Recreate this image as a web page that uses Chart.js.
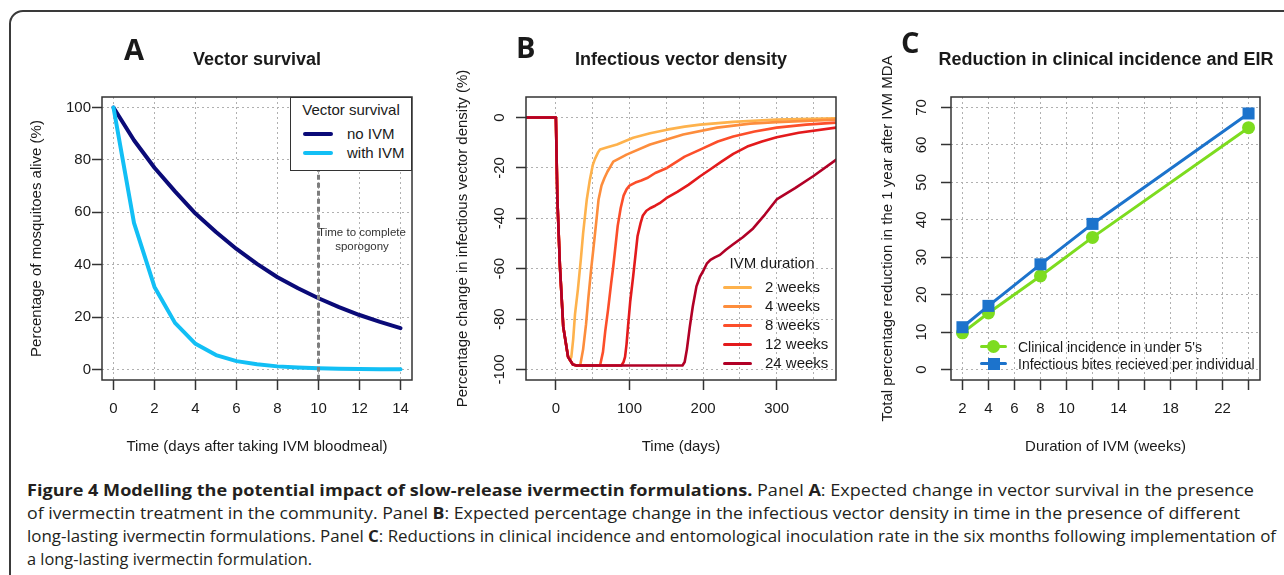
<!DOCTYPE html>
<html>
<head>
<meta charset="utf-8">
<script src="https://cdn.jsdelivr.net/npm/chart.js@4.4.1/dist/chart.umd.min.js"></script>
<style>
  body { margin: 0; background: #fff; }
  #page { position: relative; width: 1284px; height: 575px; overflow: hidden;
          font-family: "Liberation Sans", Arial, sans-serif; color: #1a1a1a; }
  #frame { position: absolute; left: 9px; top: 10px; width: 1320px; height: 640px;
           border: 2px solid #3a3a3a; border-radius: 14px; }
  canvas { position: absolute; top: 0; }
  .ttl { position: absolute; width: 440px; font-weight: bold; font-size: 18px;
         line-height: 20px; text-align: center; }
  .letter { position: absolute; font-family: "Open Sans", sans-serif; font-weight: 700;
            font-size: 29px; line-height: 30px; }
  .lg { position: absolute; font-size: 15px; line-height: 18px; white-space: nowrap; }
  .sw { position: absolute; border-radius: 2px; }
  .note { position: absolute; width: 120px; text-align: center; font-size: 11.5px;
          line-height: 14px; color: #333; }
  #cap { position: absolute; left: 27px; top: 478px; font-family: "Open Sans", sans-serif;
         font-size: 16.5px; color: #231f20; }
  #cap div { height: 23px; line-height: 23px; white-space: nowrap; transform-origin: left center; width: max-content; }
  #cap b { font-weight: 700; }
</style>
</head>
<body>
<div id="page">
  <div id="frame"></div>

  <canvas id="chartA" width="430" height="470" style="left:0px"></canvas>
  <canvas id="chartB" width="420" height="470" style="left:430px"></canvas>
  <canvas id="chartC" width="434" height="470" style="left:850px"></canvas>

  <!-- panel titles and letters -->
  <div class="letter" style="left:124px; top:34px">A</div>
  <div class="letter" style="left:516px; top:32px">B</div>
  <div class="letter" style="left:901px; top:27px">C</div>
  <div class="ttl" style="left:37px; top:49px">Vector survival</div>
  <div class="ttl" style="left:461px; top:49px">Infectious vector density</div>
  <div class="ttl" style="left:886px; top:49px">Reduction in clinical incidence and EIR</div>

  <!-- panel A annotation + legend -->
  <div class="note" style="left:302px; top:225px">Time to complete<br>sporogony</div>
  <div style="position:absolute; left:290px; top:97px; width:120px; height:72px; background:#fff; border:1.5px solid #333;"></div>
  <div class="lg" style="left:290px; top:101px; width:122px; text-align:center">Vector survival</div>
  <div class="sw" style="left:303px; top:132px; width:30px; height:4px; background:#0a0a78"></div>
  <div class="lg" style="left:347px; top:125px">no IVM</div>
  <div class="sw" style="left:303px; top:151px; width:30px; height:4px; background:#12bff5"></div>
  <div class="lg" style="left:347px; top:144px">with IVM</div>

  <!-- panel B legend -->
  <div class="lg" style="left:722px; top:254px; width:100px; text-align:center">IVM duration</div>
  <div id="legB"></div>

  <!-- panel C legend -->
  <div class="sw" style="left:980px; top:345px; width:27px; height:3px; background:#7ddc1f"></div>
  <div class="sw" style="left:987px; top:340px; width:13px; height:13px; border-radius:50%; background:#7ddc1f"></div>
  <div class="lg" style="left:1018px; top:338px; font-size:14px">Clinical incidence in under 5's</div>
  <div class="sw" style="left:980px; top:362px; width:27px; height:3px; background:#1c73cc"></div>
  <div class="sw" style="left:988px; top:358px; width:12px; height:12px; border-radius:0; background:#1c73cc"></div>
  <div class="lg" style="left:1018px; top:355px; font-size:14px">Infectious bites recieved per individual</div>

  <div id="cap">
    <div><b>Figure 4 Modelling the potential impact of slow-release ivermectin formulations.</b> Panel <b>A</b>: Expected change in vector survival in the presence</div>
    <div>of ivermectin treatment in the community. Panel <b>B</b>: Expected percentage change in the infectious vector density in time in the presence of different</div>
    <div>long-lasting ivermectin formulations. Panel <b>C</b>: Reductions in clinical incidence and entomological inoculation rate in the six months following implementation of</div>
    <div>a long-lasting ivermectin formulation.</div>
  </div>
</div>

<script>
// ---------- data : panel A (vector survival) ----------
const daysA = [0, 1, 2, 3, 4, 5, 6, 7, 8, 9, 10, 11, 12, 13, 14];
const noIVM = [100, 87.5, 77, 68, 59.5, 52.5, 46, 40.3, 35.2, 31, 27.2, 23.8, 20.8, 18.2, 15.8];
const withIVM = [100, 56, 31.5, 17.8, 9.8, 5.5, 3.2, 2, 1.2, 0.8, 0.5, 0.3, 0.2, 0.1, 0.1];
const sporogonyDay = 10;
const xTicksA = [0, 2, 4, 6, 8, 10, 12, 14];
const yTicksA = [0, 20, 40, 60, 80, 100];

// ---------- data : panel B (infectious vector density) ----------
const ivmLabels = ['2 weeks', '4 weeks', '8 weeks', '12 weeks', '24 weeks'];
const ivmColors = ['#FEB24C', '#FD8D3C', '#FC4E2A', '#E31A1C', '#B10026'];
const days2w = [-45, 0, 2, 5.5, 10, 16.5, 19, 21, 23.5, 26, 30, 34, 37, 42, 46, 50, 53, 57, 60, 70, 83, 105, 128, 151, 175, 196, 241, 300, 381];
const dens2w = [0, 0, -32, -59, -83, -94.5, -96.3, -95, -88, -78, -68, -56, -46, -32.5, -25, -19, -16.5, -14, -12.7, -11.8, -10.7, -8, -6.2, -4.8, -3.6, -2.8, -1.7, -0.8, -0.3];
const days4w = [-45, 0, 2, 5.5, 10, 16.5, 23, 28, 33, 37, 41, 44, 48, 51, 55, 58, 62, 66, 70, 78, 96, 128, 173, 219, 264, 300, 381];
const dens4w = [0, 0, -32, -59, -83, -95, -98, -98.4, -98.4, -92, -82, -72, -60, -52, -41, -32.5, -27, -24, -21.5, -17.5, -14.7, -10.7, -6.7, -4, -2.4, -1.8, -0.8];
const days8w = [-45, 0, 2, 5.5, 10, 16.5, 23, 28, 60, 64, 67, 71, 75, 78, 81, 84, 88, 92, 96, 100, 108, 116, 124, 135, 151, 175, 196, 220, 241, 270, 300, 340, 381];
const dens8w = [0, 0, -32, -59, -83, -95, -98, -98.4, -98.4, -93, -85, -76, -66, -59, -51, -43, -36, -31, -28.5, -27, -25.8, -25, -24, -22, -20, -15.5, -12.7, -9.5, -7.5, -5.5, -4, -2.8, -2];
const days12w = [-45, 0, 2, 5.5, 10, 16.5, 23, 28, 89, 92, 94, 96, 98, 101, 105, 108, 111, 115, 118, 123, 128, 135, 141, 150, 165, 180, 196, 210, 225, 241, 260, 280, 300, 330, 381];
const dens12w = [0, 0, -32, -59, -83, -95, -98, -98.4, -98.4, -97, -95, -90, -83, -73, -63, -55, -47, -42, -39, -37, -36, -35, -34, -32, -29.5, -26.7, -23.3, -20.5, -17.5, -14.4, -11.5, -9.5, -7.8, -6, -4];
const days24w = [-45, 0, 2, 5.5, 10, 16.5, 23, 28, 172, 175, 178, 182, 186, 191, 196, 200, 205, 210, 216, 223, 231, 240, 254, 268, 284, 300, 325, 350, 381];
const dens24w = [0, 0, -32, -59, -83, -95, -98, -98.4, -98.4, -97, -92, -83, -75, -67, -63, -61, -58, -56.5, -55.5, -54.5, -52.5, -50.5, -47.5, -44, -38.5, -32.5, -28, -23.2, -16.7];
const xTicksB = [0, 50, 100, 150, 200, 250, 300, 350];
const xLabelsB = [0, 100, 200, 300];
const yTicksB = [-100, -80, -60, -40, -20, 0];

// ---------- data : panel C (reductions) ----------
const weeksC = [2, 4, 8, 12, 24];
const clinicalRed = [9.8, 15.1, 25, 35.3, 64.6];
const bitesRed = [11.3, 17, 28.1, 38.9, 68.4];
const xTicksC = [2, 4, 6, 8, 10, 12, 14, 16, 18, 20, 22, 24];
const xLabelsC = [2, 4, 6, 8, 10, 14, 18, 22];
const yTicksC = [0, 10, 20, 30, 40, 50, 60, 70];

// ==========================
// helpers
// ==========================
const FF = '"Liberation Sans", Arial, sans-serif';
const INK = '#1a1a1a';
Chart.defaults.font.family = FF;
Chart.defaults.color = INK;

const pts = (xs, ys) => xs.map((x, i) => ({ x: x, y: ys[i] }));

function axis(o) {
  return {
    type: 'linear', position: o.pos, min: o.min, max: o.max,
    afterBuildTicks: s => { s.ticks = o.ticks.map(v => ({ value: v })); },
    afterFit: s => { if (o.pos === 'left') s.width = o.size; else s.height = o.size; },
    grid: {
      color: '#b0b0b0', lineWidth: 1, tickLength: 10, tickWidth: 1.5,
      tickColor: c => (o.marks.includes(c.tick.value) ? '#333' : 'rgba(0,0,0,0)')
    },
    border: { display: false, dash: [2, 3] },
    ticks: {
      display: o.showLabels, autoSkip: false, maxRotation: 0, minRotation: 0,
      color: INK, font: { size: 15 }, padding: o.pad,
      callback: v => (o.labels.includes(v) ? String(v) : '')
    },
    title: { display: true, text: o.title, color: INK, font: { size: 15 }, padding: o.tpad }
  };
}

// box round the plot region
const plotBox = {
  id: 'plotBox',
  afterDatasetsDraw(chart) {
    const { ctx, chartArea: a } = chart;
    ctx.save();
    ctx.strokeStyle = '#333';
    ctx.lineWidth = 1.5;
    ctx.strokeRect(a.left, a.top, a.right - a.left, a.bottom - a.top);
    ctx.restore();
  }
};

// R style vertical y tick labels
function rotYLabels(labels, offset) {
  return {
    id: 'rotYLabels',
    afterDraw(chart) {
      const { ctx, chartArea } = chart;
      const ys = chart.scales.y;
      ctx.save();
      ctx.font = '15px ' + FF;
      ctx.fillStyle = INK;
      ctx.textAlign = 'center';
      ctx.textBaseline = 'middle';
      labels.forEach(v => {
        ctx.save();
        ctx.translate(chartArea.left - offset, ys.getPixelForValue(v));
        ctx.rotate(-Math.PI / 2);
        ctx.fillText(String(v), 0, 0);
        ctx.restore();
      });
      ctx.restore();
    }
  };
}

function baseOptions(padRight, scales) {
  return {
    responsive: false, animation: false, devicePixelRatio: 1, events: [],
    layout: { padding: { top: 97, right: padRight, bottom: 0, left: 0 } },
    plugins: { legend: { display: false }, tooltip: { enabled: false } },
    scales: scales
  };
}

const lineDefaults = { showLine: true, pointRadius: 0, tension: 0, fill: false,
                       borderCapStyle: 'round', borderJoinStyle: 'round' };

// ==========================
// PANEL A
// ==========================
new Chart(document.getElementById('chartA'), {
  type: 'scatter',
  data: {
    datasets: [
      Object.assign({}, lineDefaults, { data: pts([sporogonyDay, sporogonyDay], [-10, 110]),
        borderColor: '#7d7d7d', borderWidth: 3, borderDash: [5, 3], borderCapStyle: 'butt' }),
      Object.assign({}, lineDefaults, { data: pts(daysA, withIVM), borderColor: '#12bff5', borderWidth: 4 }),
      Object.assign({}, lineDefaults, { data: pts(daysA, noIVM), borderColor: '#0a0a78', borderWidth: 4 })
    ]
  },
  options: baseOptions(18, {
    x: axis({ pos: 'bottom', min: -0.56, max: 14.56, ticks: xTicksA, labels: xTicksA, marks: xTicksA,
              size: 90, pad: 10, showLabels: true, tpad: 14,
              title: 'Time (days after taking IVM bloodmeal)' }),
    y: axis({ pos: 'left', min: -4, max: 104, ticks: yTicksA, labels: yTicksA, marks: yTicksA,
              size: 102, pad: 1, showLabels: true, tpad: 28,
              title: 'Percentage of mosquitoes alive (%)' })
  }),
  plugins: [plotBox]
});

// ==========================
// PANEL B
// ==========================
const seriesB = [pts(days2w, dens2w), pts(days4w, dens4w), pts(days8w, dens8w),
                 pts(days12w, dens12w), pts(days24w, dens24w)];

new Chart(document.getElementById('chartB'), {
  type: 'scatter',
  data: {
    datasets: seriesB.map((d, i) => Object.assign({}, lineDefaults, {
      data: d, borderColor: ivmColors[i], borderWidth: 2.6, order: seriesB.length - i
    }))
  },
  options: baseOptions(14, {
    x: axis({ pos: 'bottom', min: -40.6, max: 380.6, ticks: xTicksB, labels: xLabelsB, marks: xLabelsB,
              size: 90, pad: 10, showLabels: true, tpad: 14, title: 'Time (days)' }),
    y: axis({ pos: 'left', min: -104.16, max: 8.16, ticks: yTicksB, labels: yTicksB, marks: yTicksB,
              size: 96, pad: 4, showLabels: false, tpad: 24,
              title: 'Percentage change in infectious vector density (%)' })
  }),
  plugins: [plotBox, rotYLabels(yTicksB, 26)]
});

// legend B
const legB = document.getElementById('legB');
const rowsB = [287, 306, 325, 344, 363];
ivmLabels.forEach((lab, i) => {
  legB.insertAdjacentHTML('beforeend',
    '<div class="sw" style="left:723px; top:' + (rowsB[i] - 1.5) + 'px; width:29px; height:3px; background:' + ivmColors[i] + '"></div>' +
    '<div class="lg" style="left:765px; top:' + (rowsB[i] - 9) + 'px">' + lab + '</div>');
});

// ==========================
// PANEL C
// ==========================
new Chart(document.getElementById('chartC'), {
  type: 'scatter',
  data: {
    datasets: [
      Object.assign({}, lineDefaults, { data: pts(weeksC, clinicalRed), borderColor: '#7ddc1f',
        backgroundColor: '#7ddc1f', borderWidth: 3, pointStyle: 'circle', pointRadius: 6.5,
        pointBorderWidth: 0, order: 2 }),
      Object.assign({}, lineDefaults, { data: pts(weeksC, bitesRed), borderColor: '#1c73cc',
        backgroundColor: '#1c73cc', borderWidth: 3, pointStyle: 'rect', pointRadius: 8.5,
        pointBorderWidth: 0, order: 1 })
    ]
  },
  options: baseOptions(24, {
    x: axis({ pos: 'bottom', min: 1.12, max: 24.88, ticks: xTicksC, labels: xLabelsC, marks: xTicksC,
              size: 90, pad: 10, showLabels: true, tpad: 14, title: 'Duration of IVM (weeks)' }),
    y: axis({ pos: 'left', min: -2.8, max: 72.8, ticks: yTicksC, labels: yTicksC, marks: yTicksC,
              size: 101, pad: 4, showLabels: false, tpad: 29,
              title: 'Total percentage reduction in the 1 year after IVM MDA' })
  }),
  plugins: [plotBox, rotYLabels(yTicksC, 29)]
});

// ==========================
// CAPTION : fit each line to its width in the figure
// ==========================
const capWidths = [1227, 1213, 1249, 285];
document.querySelectorAll('#cap div').forEach((el, i) => {
  const k = capWidths[i] / el.getBoundingClientRect().width;
  el.style.transform = 'scaleX(' + k + ')';
});
</script>
</body>
</html>
